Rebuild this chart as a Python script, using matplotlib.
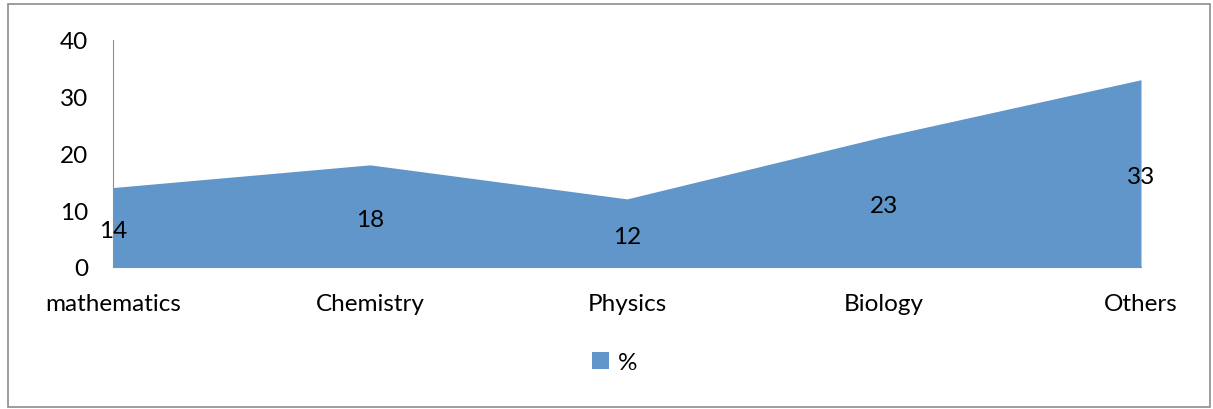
import matplotlib.pyplot as plt
import numpy as np

subjects = ['mathematics', 'Chemistry', 'Physics', 'Biology', 'Others']
percent = [14, 18, 12, 23, 33]
yticks = [0, 10, 20, 30, 40]

plt.rcParams['font.family'] = ['Lato', 'DejaVu Sans']

fig = plt.figure(figsize=(12.13, 4.10), dpi=100)
ax = fig.add_axes([113 / 1213, 142 / 410, 1028 / 1213, 227 / 410])

x = np.arange(len(subjects))
ax.fill_between(x, 0, percent, color='#6096c9', linewidth=0, label='%')

# data labels sit about halfway up the area
for xi, v in zip(x, percent):
    ax.text(xi, v / 2 - 0.6, str(v), ha='center', va='center', fontsize=17.5)

ax.set_xlim(0, len(subjects) - 1)
ax.set_ylim(0, 40)
ax.set_yticks(yticks)
ax.set_xticks(x)
ax.set_xticklabels(subjects)
ax.tick_params(axis='both', length=0, labelsize=17.5)
ax.tick_params(axis='y', pad=18)
ax.tick_params(axis='x', pad=19)

for s in ['top', 'right']:
    ax.spines[s].set_visible(False)
ax.spines['left'].set_color('#909090')
ax.spines['bottom'].set_color('#909090')

leg = ax.legend(loc='center', bbox_to_anchor=(0.488, -0.42), frameon=False,
                fontsize=17.5, handlelength=0.7, handleheight=0.7, handletextpad=0.4)

# outer chart border
fig.patches.append(plt.Rectangle((8 / 1213, 2 / 410), 1202 / 1213, 403 / 410,
                                 transform=fig.transFigure, fill=False,
                                 edgecolor='#8c8c8c', linewidth=1.2))

fig.savefig('out.png', dpi=100)
